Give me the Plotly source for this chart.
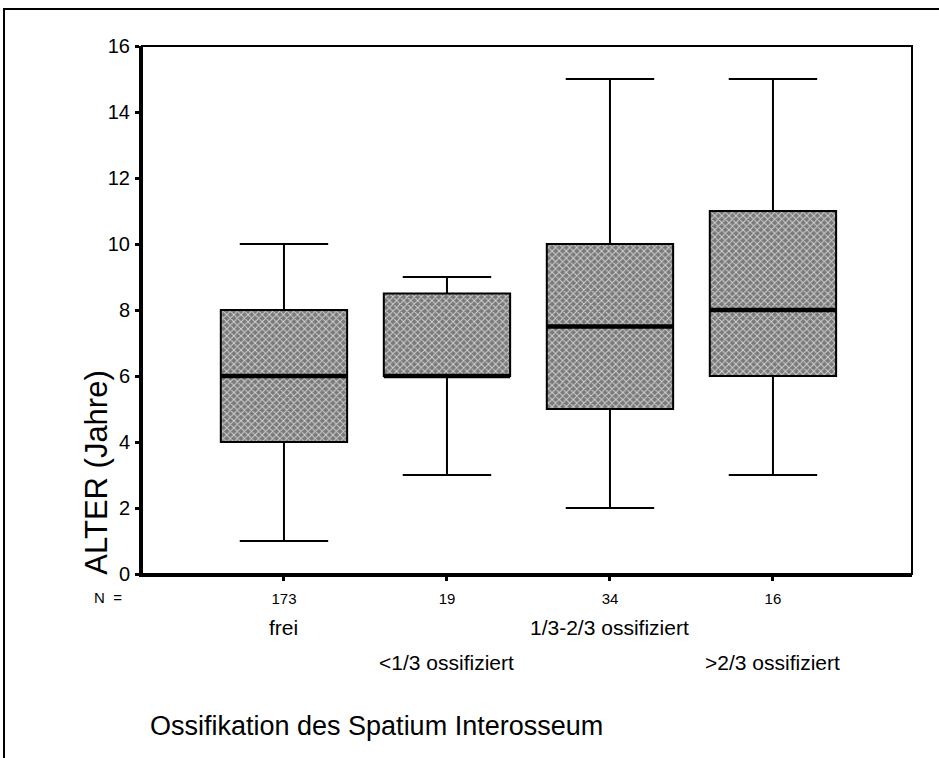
import plotly.graph_objects as go

# Ossification groups and their summary statistics (age in years)
groups = ["frei", "<1/3 ossifiziert", "1/3-2/3 ossifiziert", ">2/3 ossifiziert"]
n_counts = ["173", "19", "34", "16"]
lower_whisker = [1, 3, 2, 3]
q1 = [4, 6, 5, 6]
median = [6, 6, 7.5, 8]
q3 = [8, 8.5, 10, 11]
upper_whisker = [10, 9, 15, 15]
y_ticks = [0, 2, 4, 6, 8, 10, 12, 14, 16]

FONT = "Liberation Sans, Arial, sans-serif"
BOX_W = 0.775
pos = list(range(len(groups)))

fig = go.Figure()

# Hatched fill of each box (interquartile range)
fig.add_trace(go.Bar(
    x=pos,
    y=[b - a for a, b in zip(q1, q3)],
    base=q1,
    width=[BOX_W] * len(pos),
    marker=dict(
        color="#8a8a8a",
        line=dict(color="black", width=0),
        pattern=dict(shape="x", bgcolor="#7a7a7a", fgcolor="#d2d2d2",
                     size=5, solidity=0.35, fillmode="replace"),
    ),
    hoverinfo="skip",
    showlegend=False,
))

# Box outlines and whiskers
fig.add_trace(go.Box(
    x=pos,
    q1=q1,
    median=median,
    q3=q3,
    lowerfence=lower_whisker,
    upperfence=upper_whisker,
    width=BOX_W,
    whiskerwidth=0.7,
    fillcolor="rgba(0,0,0,0)",
    line=dict(color="black", width=2),
    boxpoints=False,
    showlegend=False,
))

# Heavy median bars
mx, my = [], []
for p, m in zip(pos, median):
    mx += [p - BOX_W / 2, p + BOX_W / 2, None]
    my += [m, m, None]
fig.add_trace(go.Scatter(x=mx, y=my, mode="lines",
                         line=dict(color="black", width=4.5),
                         hoverinfo="skip", showlegend=False))

annotations = []
# Group names, staggered on two rows
for p, g in zip(pos, groups):
    annotations.append(dict(
        x=p, y=-0.102 if p % 2 == 0 else -0.167, xref="x", yref="paper",
        text=g, showarrow=False, xanchor="center", yanchor="middle",
        font=dict(family=FONT, size=21, color="black"),
    ))
annotations.append(dict(
    x=-0.023, y=-0.045, xref="paper", yref="paper", text="N&nbsp;&nbsp;=",
    showarrow=False, xanchor="right", yanchor="middle",
    font=dict(family=FONT, size=15, color="black"),
))
annotations.append(dict(
    x=0.0078, y=-0.288, xref="paper", yref="paper",
    text="Ossifikation des Spatium Interosseum",
    showarrow=False, xanchor="left", yanchor="middle",
    font=dict(family=FONT, size=27, color="black"),
))
annotations.append(dict(
    x=-0.0584, y=-0.005, xref="paper", yref="paper",
    text="ALTER (Jahre)", textangle=-90,
    showarrow=False, xanchor="center", yanchor="bottom",
    font=dict(family=FONT, size=31, color="black"),
))

shapes = [
    # outer frame
    dict(type="rect", xref="paper", yref="paper",
         x0=-0.1792, x1=1.06, y0=-0.40, y1=1.0701,
         line=dict(color="black", width=2), fillcolor="rgba(0,0,0,0)",
         layer="below"),
    # plot area frame
    dict(type="rect", xref="paper", yref="paper",
         x0=0, x1=1, y0=0, y1=1,
         line=dict(color="black", width=2), fillcolor="rgba(0,0,0,0)"),
]

fig.update_layout(
    width=939, height=758,
    margin=dict(l=142, r=27, t=46, b=184),
    paper_bgcolor="white",
    plot_bgcolor="white",
    showlegend=False,
    hovermode=False,
    bargap=0,
    annotations=annotations,
    shapes=shapes,
    font=dict(family=FONT, color="black"),
)

fig.update_xaxes(
    range=[-0.871, 3.853],
    tickvals=pos, ticktext=n_counts,
    showgrid=False, zeroline=False,
    showline=True, linecolor="black", linewidth=3,
    ticks="outside", ticklen=4, tickwidth=3, tickcolor="black",
    tickfont=dict(family=FONT, size=15, color="black"),
    ticklabelstandoff=5,
)
fig.update_yaxes(
    range=[0, 16],
    tickvals=y_ticks,
    showgrid=False, zeroline=False,
    showline=True, linecolor="black", linewidth=3,
    ticks="outside", ticklen=4, tickwidth=3, tickcolor="black",
    tickfont=dict(family=FONT, size=20, color="black"),
    ticklabelstandoff=1,
)

fig.write_html("out.html")
